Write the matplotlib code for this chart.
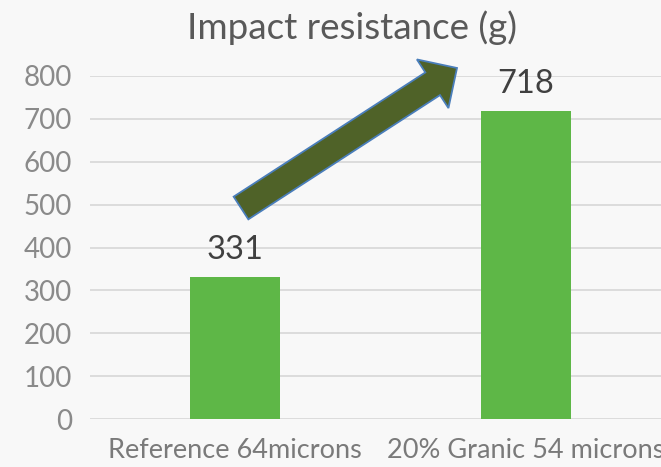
import matplotlib
matplotlib.use("Agg")
import matplotlib.pyplot as plt
from matplotlib.patches import FancyArrow
from matplotlib.transforms import IdentityTransform

categories = ["Reference 64microns", "20% Granic 54 microns"]
values = [331, 718]
yticks = [0, 100, 200, 300, 400, 500, 600, 700, 800]
title = "Impact resistance (g)"

W, H = 661, 467
bg = "#F8F8F8"
fig = plt.figure(figsize=(W / 100, H / 100), dpi=100, facecolor=bg)
ax = fig.add_axes([90 / W, 48 / H, 581 / W, 343 / H], facecolor=bg)

x = list(range(len(categories)))
ax.bar(x, values, width=0.31, color="#5EB747", zorder=3)
ax.set_xlim(-0.5, 1.5)
ax.set_ylim(0, 800)
ax.set_yticks(yticks)
ax.set_yticklabels([str(v) for v in yticks], fontfamily="Lato",
                   fontsize=20, color="#8A8A8A")
ax.set_xticks(x)
ax.set_xticklabels(categories, fontfamily="Lato",
                   fontsize=19.5, color="#7A7A7A")
ax.tick_params(axis="both", length=0)
ax.tick_params(axis="y", pad=13)
ax.tick_params(axis="x", pad=14)
ax.yaxis.grid(True, color="#D9D9D9", linewidth=1.3, zorder=0)
ax.set_axisbelow(True)
for s in ax.spines.values():
    s.set_visible(False)

for xi, v in zip(x, values):
    ax.annotate(str(v), (xi, v), xytext=(0, 9), textcoords="offset points",
                ha="center", va="bottom", fontfamily="Lato", fontsize=23.5,
                color="#404040")

fig.text(352 / W, 1 - 28 / H, title, ha="center", va="center",
         fontfamily="Lato", fontsize=26.5, color="#595959")

# decorative arrow (pixel space)
tx, ty = 241, H - 208
hx, hy = 457, H - 68
arrow = FancyArrow(tx, ty, hx - tx, hy - ty, width=27, head_width=58,
                   head_length=29, length_includes_head=True,
                   transform=IdentityTransform(), facecolor="#4F6228",
                   edgecolor="#4A7EBB", linewidth=1.3, zorder=5)
fig.patches.append(arrow)

fig.savefig("out.png", dpi=100, facecolor=bg)
